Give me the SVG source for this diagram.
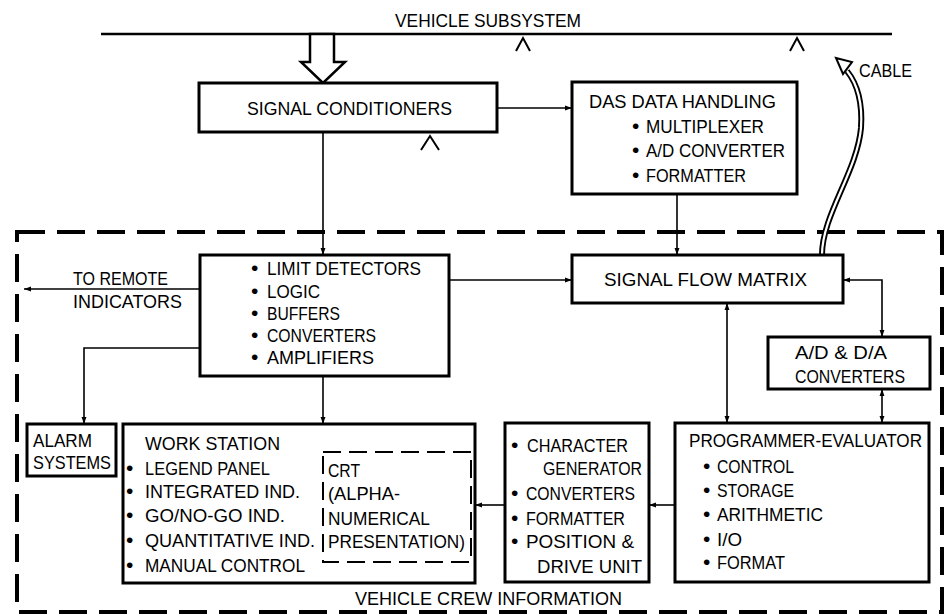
<svg xmlns="http://www.w3.org/2000/svg" width="945" height="615" viewBox="0 0 945 615">
<defs>
<marker id="ah" viewBox="0 0 10 10" refX="10" refY="5" markerWidth="7" markerHeight="7" orient="auto-start-reverse" markerUnits="userSpaceOnUse"><path d="M0,1.5 L10,5 L0,8.5 z" fill="#000"/></marker>
<style>
.box{fill:#fff;stroke:#000;stroke-width:3}
.t{font-family:"Liberation Sans",Arial,sans-serif;font-size:18px;fill:#000}
.b{font-size:21px}
.c{fill:none;stroke:#000;stroke-width:1.6}
.caret{fill:none;stroke:#000;stroke-width:2}
.bound{fill:none;stroke:#000;stroke-width:4;stroke-dasharray:28 12}
.crt{fill:none;stroke:#000;stroke-width:2;stroke-dasharray:18 8}
</style>
</defs>
<rect width="945" height="615" fill="#fff"/>

<g id="crew-boundary">
<rect class="bound" x="17" y="232" width="925" height="380"/>
<text class="t" x="355" y="605" textLength="267" lengthAdjust="spacingAndGlyphs">VEHICLE CREW INFORMATION</text>
</g>

<g id="vehicle-subsystem">
<text class="t" x="395" y="27" textLength="186" lengthAdjust="spacingAndGlyphs">VEHICLE SUBSYSTEM</text>
<line x1="101" y1="34" x2="892" y2="34" stroke="#000" stroke-width="2.5"/>
<polyline class="caret" points="516,51 523,38 530,51"/>
<polyline class="caret" points="790,51 797,38 804,51"/>
</g>

<g id="connectors">
<polygon points="310,34 310,62 301,62 323,83 345,62 334,62 334,34" fill="#fff" stroke="#000" stroke-width="2.5"/>
<line class="c" x1="497" y1="108" x2="572" y2="108" marker-end="url(#ah)"/>
<line class="c" x1="323" y1="132" x2="323" y2="255" marker-end="url(#ah)"/>
<line class="c" x1="677" y1="194" x2="677" y2="255" marker-end="url(#ah)"/>
<line class="c" x1="449" y1="280" x2="572" y2="280" marker-end="url(#ah)"/>
<line class="c" x1="200" y1="289" x2="24" y2="289" marker-end="url(#ah)"/>
<polyline class="c" points="200,348 84,348 84,424" marker-end="url(#ah)"/>
<line class="c" x1="323" y1="376" x2="323" y2="424" marker-end="url(#ah)"/>
<line class="c" x1="727" y1="303" x2="727" y2="423" marker-start="url(#ah)" marker-end="url(#ah)"/>
<polyline class="c" points="843,280 882,280 882,337" marker-start="url(#ah)" marker-end="url(#ah)"/>
<line class="c" x1="882" y1="389" x2="882" y2="423" marker-start="url(#ah)" marker-end="url(#ah)"/>
<line class="c" x1="675" y1="505" x2="649" y2="505" marker-end="url(#ah)"/>
<line class="c" x1="505" y1="505" x2="475" y2="505" marker-end="url(#ah)"/>
<path d="M822,255 C822,215 857,172 861,128 C863,98 855,81 847,71" fill="none" stroke="#000" stroke-width="6"/>
<path d="M822,255 C822,215 857,172 861,128 C863,98 855,81 847,71" fill="none" stroke="#fff" stroke-width="2.2"/>
<polygon points="836,58 852,62 843,74" fill="#fff" stroke="#000" stroke-width="2"/>
<text class="t" x="859" y="77" textLength="53" lengthAdjust="spacingAndGlyphs">CABLE</text>
<text class="t" x="73" y="285" textLength="95" lengthAdjust="spacingAndGlyphs">TO REMOTE</text>
<text class="t" x="73" y="308" textLength="109" lengthAdjust="spacingAndGlyphs">INDICATORS</text>
</g>

<g id="signal-conditioners">
<rect class="box" x="199" y="83" width="298" height="49"/>
<text class="t" x="247" y="115" textLength="205" lengthAdjust="spacingAndGlyphs">SIGNAL CONDITIONERS</text>
<polyline class="caret" points="421,150 430,136 439,150"/>
</g>

<g id="das-data-handling">
<rect class="box" x="572" y="82" width="225" height="112"/>
<text class="t" x="589" y="108" textLength="187" lengthAdjust="spacingAndGlyphs">DAS DATA HANDLING</text>
<text class="t" y="133"><tspan x="632" class="b">•</tspan><tspan x="646" textLength="118" lengthAdjust="spacingAndGlyphs">MULTIPLEXER</tspan></text>
<text class="t" y="157"><tspan x="632" class="b">•</tspan><tspan x="646" textLength="139" lengthAdjust="spacingAndGlyphs">A/D CONVERTER</tspan></text>
<text class="t" y="182"><tspan x="632" class="b">•</tspan><tspan x="646" textLength="100" lengthAdjust="spacingAndGlyphs">FORMATTER</tspan></text>
</g>

<g id="limit-detectors">
<rect class="box" x="200" y="255" width="249" height="121"/>
<text class="t" y="275"><tspan x="251" class="b">•</tspan><tspan x="267" textLength="154" lengthAdjust="spacingAndGlyphs">LIMIT DETECTORS</tspan></text>
<text class="t" y="298"><tspan x="251" class="b">•</tspan><tspan x="267" textLength="53" lengthAdjust="spacingAndGlyphs">LOGIC</tspan></text>
<text class="t" y="320"><tspan x="251" class="b">•</tspan><tspan x="267" textLength="73" lengthAdjust="spacingAndGlyphs">BUFFERS</tspan></text>
<text class="t" y="342"><tspan x="251" class="b">•</tspan><tspan x="267" textLength="109" lengthAdjust="spacingAndGlyphs">CONVERTERS</tspan></text>
<text class="t" y="364"><tspan x="251" class="b">•</tspan><tspan x="267" textLength="107" lengthAdjust="spacingAndGlyphs">AMPLIFIERS</tspan></text>
</g>

<g id="signal-flow-matrix">
<rect class="box" x="572" y="255" width="271" height="48"/>
<text class="t" x="604" y="286" textLength="203" lengthAdjust="spacingAndGlyphs">SIGNAL FLOW MATRIX</text>
</g>

<g id="ad-da-converters">
<rect class="box" x="768" y="337" width="162" height="52"/>
<text class="t" x="795" y="359" textLength="92" lengthAdjust="spacingAndGlyphs">A/D &amp; D/A</text>
<text class="t" x="795" y="383" textLength="110" lengthAdjust="spacingAndGlyphs">CONVERTERS</text>
</g>

<g id="alarm-systems">
<rect class="box" x="27" y="424" width="89" height="52"/>
<text class="t" x="33" y="447" textLength="59" lengthAdjust="spacingAndGlyphs">ALARM</text>
<text class="t" x="33" y="469" textLength="78" lengthAdjust="spacingAndGlyphs">SYSTEMS</text>
</g>

<g id="work-station">
<rect class="box" x="123" y="424" width="352" height="159"/>
<text class="t" x="145" y="450" textLength="135" lengthAdjust="spacingAndGlyphs">WORK STATION</text>
<text class="t" y="475"><tspan x="126" class="b">•</tspan><tspan x="145" textLength="125" lengthAdjust="spacingAndGlyphs">LEGEND PANEL</tspan></text>
<text class="t" y="498"><tspan x="126" class="b">•</tspan><tspan x="145" textLength="155" lengthAdjust="spacingAndGlyphs">INTEGRATED IND.</tspan></text>
<text class="t" y="522"><tspan x="126" class="b">•</tspan><tspan x="145" textLength="140" lengthAdjust="spacingAndGlyphs">GO/NO-GO IND.</tspan></text>
<text class="t" y="547"><tspan x="126" class="b">•</tspan><tspan x="145" textLength="170" lengthAdjust="spacingAndGlyphs">QUANTITATIVE IND.</tspan></text>
<text class="t" y="572"><tspan x="126" class="b">•</tspan><tspan x="145" textLength="160" lengthAdjust="spacingAndGlyphs">MANUAL CONTROL</tspan></text>
</g>

<g id="crt">
<rect class="crt" x="323" y="452" width="148" height="110"/>
<text class="t" x="328" y="477" textLength="32" lengthAdjust="spacingAndGlyphs">CRT</text>
<text class="t" x="328" y="500" textLength="72" lengthAdjust="spacingAndGlyphs">(ALPHA-</text>
<text class="t" x="328" y="525" textLength="102" lengthAdjust="spacingAndGlyphs">NUMERICAL</text>
<text class="t" x="328" y="548" textLength="137" lengthAdjust="spacingAndGlyphs">PRESENTATION)</text>
</g>

<g id="character-generator">
<rect class="box" x="505" y="423" width="144" height="159"/>
<text class="t" y="452"><tspan x="511" class="b">•</tspan><tspan x="527" textLength="101" lengthAdjust="spacingAndGlyphs">CHARACTER</tspan></text>
<text class="t" x="543" y="475" textLength="99" lengthAdjust="spacingAndGlyphs">GENERATOR</text>
<text class="t" y="500"><tspan x="511" class="b">•</tspan><tspan x="526" textLength="109" lengthAdjust="spacingAndGlyphs">CONVERTERS</tspan></text>
<text class="t" y="525"><tspan x="511" class="b">•</tspan><tspan x="526" textLength="99" lengthAdjust="spacingAndGlyphs">FORMATTER</tspan></text>
<text class="t" y="548"><tspan x="511" class="b">•</tspan><tspan x="526" textLength="108" lengthAdjust="spacingAndGlyphs">POSITION &amp;</tspan></text>
<text class="t" x="537" y="573" textLength="105" lengthAdjust="spacingAndGlyphs">DRIVE UNIT</text>
</g>

<g id="programmer-evaluator">
<rect class="box" x="675" y="423" width="254" height="159"/>
<text class="t" x="689" y="447" textLength="233" lengthAdjust="spacingAndGlyphs">PROGRAMMER-EVALUATOR</text>
<text class="t" y="473"><tspan x="703" class="b">•</tspan><tspan x="717" textLength="77" lengthAdjust="spacingAndGlyphs">CONTROL</tspan></text>
<text class="t" y="497"><tspan x="703" class="b">•</tspan><tspan x="717" textLength="77" lengthAdjust="spacingAndGlyphs">STORAGE</tspan></text>
<text class="t" y="521"><tspan x="703" class="b">•</tspan><tspan x="717" textLength="106" lengthAdjust="spacingAndGlyphs">ARITHMETIC</tspan></text>
<text class="t" y="546"><tspan x="703" class="b">•</tspan><tspan x="717" textLength="25" lengthAdjust="spacingAndGlyphs">I/O</tspan></text>
<text class="t" y="569"><tspan x="703" class="b">•</tspan><tspan x="717" textLength="68" lengthAdjust="spacingAndGlyphs">FORMAT</tspan></text>
</g>
</svg>
